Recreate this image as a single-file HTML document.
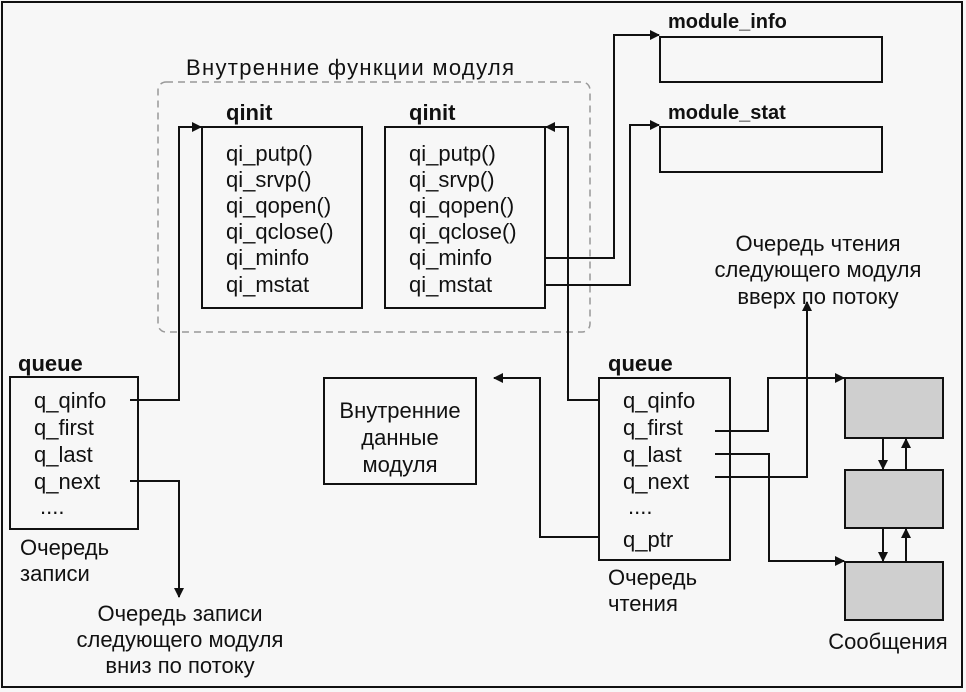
<!DOCTYPE html>
<html><head><meta charset="utf-8"><style>
html,body{margin:0;padding:0;background:#f7f7f7;}
svg{display:block;}
text{font-family:"Liberation Sans",Arial,sans-serif;fill:#111;}
.t{font-size:22px;}
.b{font-size:22px;font-weight:bold;}
.m{font-size:20px;font-weight:bold;}
</style></head><body>
<svg width="966" height="692" viewBox="0 0 966 692" xmlns="http://www.w3.org/2000/svg">
<defs>
<marker id="a" markerWidth="10" markerHeight="10" refX="9" refY="5" orient="auto" markerUnits="userSpaceOnUse">
<path d="M0,0 L10,5 L0,10 Z" fill="#111"/></marker>
</defs>
<rect x="0" y="0" width="966" height="692" fill="#f7f7f7"/>
<rect x="2" y="2" width="960" height="685" fill="none" stroke="#111" stroke-width="2"/>
<g stroke="#111" stroke-width="2" fill="none">
<rect x="158" y="82" width="432" height="250" rx="8" stroke="#999" stroke-width="1.5" stroke-dasharray="7,5"/>
<rect x="202" y="127" width="160" height="181"/>
<rect x="385" y="127" width="160" height="181"/>
<rect x="660" y="37" width="222" height="45"/>
<rect x="660" y="127" width="222" height="45"/>
<rect x="10" y="377" width="128" height="152"/>
<rect x="324" y="378" width="152" height="106"/>
<rect x="599" y="378" width="131" height="182"/>
<rect x="845" y="378" width="98" height="60" fill="#cfcfcf"/>
<rect x="845" y="470" width="98" height="58" fill="#cfcfcf"/>
<rect x="845" y="562" width="98" height="58" fill="#cfcfcf"/>
<polyline points="130,400 179,400 179,127 201,127" marker-end="url(#a)"/>
<polyline points="599,400 568,400 568,127 546,127" marker-end="url(#a)"/>
<polyline points="545,258 614,258 614,35 659,35" marker-end="url(#a)"/>
<polyline points="545,285 630,285 630,125 659,125" marker-end="url(#a)"/>
<polyline points="130,481 179,481 179,597" marker-end="url(#a)"/>
<polyline points="599,537 540,537 540,378 494,378" marker-end="url(#a)"/>
<polyline points="715,431 768,431 768,378 844,378" marker-end="url(#a)"/>
<polyline points="715,454 769,454 769,561 844,561" marker-end="url(#a)"/>
<polyline points="715,477 807,477 807,302" marker-end="url(#a)"/>
<line x1="883" y1="438" x2="883" y2="469" marker-end="url(#a)"/>
<line x1="906" y1="470" x2="906" y2="439" marker-end="url(#a)"/>
<line x1="883" y1="528" x2="883" y2="561" marker-end="url(#a)"/>
<line x1="906" y1="562" x2="906" y2="529" marker-end="url(#a)"/>
</g>
<text class="t" x="186" y="75" fill="#333" textLength="328">Внутренние функции модуля</text>
<text class="b" x="226" y="120">qinit</text>
<text class="b" x="409" y="120">qinit</text>
<text class="t" x="226" y="161">qi_putp()</text>
<text class="t" x="226" y="187">qi_srvp()</text>
<text class="t" x="226" y="213">qi_qopen()</text>
<text class="t" x="226" y="239">qi_qclose()</text>
<text class="t" x="226" y="265">qi_minfo</text>
<text class="t" x="226" y="292">qi_mstat</text>
<text class="t" x="409" y="161">qi_putp()</text>
<text class="t" x="409" y="187">qi_srvp()</text>
<text class="t" x="409" y="213">qi_qopen()</text>
<text class="t" x="409" y="239">qi_qclose()</text>
<text class="t" x="409" y="265">qi_minfo</text>
<text class="t" x="409" y="292">qi_mstat</text>
<text class="m" x="668" y="28">module_info</text>
<text class="m" x="668" y="119">module_stat</text>
<text class="b" x="18" y="371">queue</text>
<text class="t" x="34" y="408">q_qinfo</text>
<text class="t" x="34" y="435">q_first</text>
<text class="t" x="34" y="462">q_last</text>
<text class="t" x="34" y="489">q_next</text>
<text class="t" x="40" y="514" fill="#888">....</text>
<text class="t" x="20" y="555">Очередь</text>
<text class="t" x="20" y="581">записи</text>
<text class="t" x="180" y="621" text-anchor="middle">Очередь записи</text>
<text class="t" x="180" y="647" text-anchor="middle">следующего модуля</text>
<text class="t" x="180" y="673" text-anchor="middle">вниз по потоку</text>
<text class="t" x="400" y="418" text-anchor="middle">Внутренние</text>
<text class="t" x="400" y="445" text-anchor="middle">данные</text>
<text class="t" x="400" y="472" text-anchor="middle">модуля</text>
<text class="b" x="608" y="371">queue</text>
<text class="t" x="623" y="408">q_qinfo</text>
<text class="t" x="623" y="435">q_first</text>
<text class="t" x="623" y="462">q_last</text>
<text class="t" x="623" y="489">q_next</text>
<text class="t" x="628" y="514" fill="#888">....</text>
<text class="t" x="623" y="547">q_ptr</text>
<text class="t" x="608" y="585">Очередь</text>
<text class="t" x="608" y="611">чтения</text>
<text class="t" x="818" y="251" text-anchor="middle">Очередь чтения</text>
<text class="t" x="818" y="277" text-anchor="middle">следующего модуля</text>
<text class="t" x="818" y="304" text-anchor="middle">вверх по потоку</text>
<text class="t" x="888" y="649" text-anchor="middle">Сообщения</text>
</svg>
</body></html>
